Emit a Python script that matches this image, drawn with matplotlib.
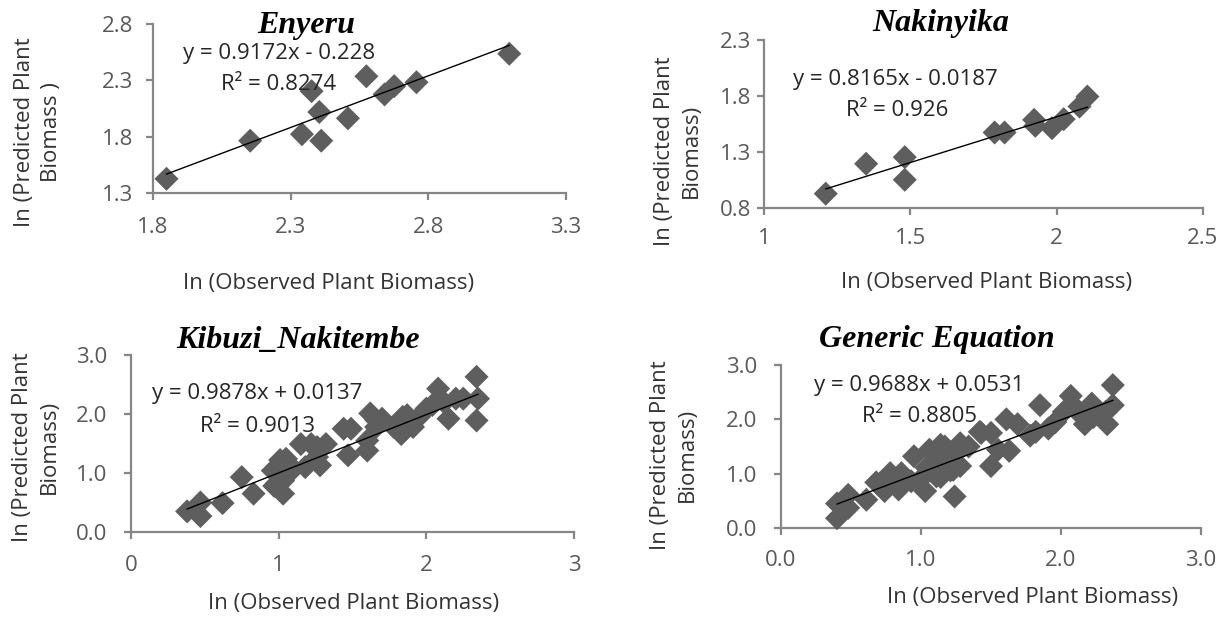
import matplotlib.pyplot as plt

W, H = 1229, 617

# --- data ---
# Enyeru
eny_obs = [1.849, 2.153, 2.341, 2.376, 2.404, 2.411, 2.508, 2.575, 2.641, 2.676, 2.757, 3.094]
eny_pred = [1.426, 1.764, 1.822, 2.204, 2.019, 1.764, 1.963, 2.336, 2.175, 2.248, 2.283, 2.536]
eny_fit = (0.9172, -0.228)

# Nakinyika
nak_obs = [1.211, 1.349, 1.481, 1.481, 1.788, 1.822, 1.923, 1.927, 1.984, 2.024, 2.078, 2.105]
nak_pred = [0.928, 1.195, 1.254, 1.052, 1.474, 1.474, 1.587, 1.534, 1.513, 1.593, 1.706, 1.795]
nak_fit = (0.8165, -0.0187)

# Kibuzi_Nakitembe
kib_obs = [0.38, 0.47, 0.47, 0.62, 0.75, 0.83, 0.96, 0.97, 1.03, 1.03, 1.05, 1.10,
           1.15, 1.18, 1.22, 1.26, 1.28, 1.32, 1.44, 1.47, 1.49, 1.60, 1.60, 1.62,
           1.66, 1.70, 1.78, 1.83, 1.87, 1.91, 1.95, 2.00, 2.04, 2.08, 2.12, 2.15,
           2.20, 2.25, 2.34, 2.35, 2.34, 1.01, 1.08, 0.99, 1.26, 1.66, 1.84]
kib_pred = [0.35, 0.50, 0.27, 0.49, 0.93, 0.65, 1.04, 0.78, 0.87, 0.65, 1.24, 1.07,
            1.49, 1.10, 1.49, 1.27, 1.13, 1.49, 1.75, 1.30, 1.75, 1.38, 1.55, 2.01,
            1.78, 1.92, 1.78, 1.66, 1.98, 1.78, 1.95, 2.09, 2.15, 2.43, 2.20, 1.92,
            2.26, 2.26, 2.63, 2.26, 1.89, 1.22, 1.10, 0.83, 1.44, 1.90, 1.95]
kib_fit = (0.9878, 0.0137)

# Generic equation (all sites)
gen_obs = [0.40, 0.40, 0.48, 0.48, 0.61, 0.68, 0.74, 0.78, 0.84, 0.86, 0.93, 0.95,
           1.03, 1.04, 1.08, 1.11, 1.14, 1.17, 1.21, 1.24, 1.25, 1.28, 1.34, 1.43,
           1.50, 1.50, 1.55, 1.61, 1.63, 1.69, 1.78, 1.82, 1.85, 1.91, 1.96, 2.02,
           2.07, 2.09, 2.15, 2.17, 2.22, 2.32, 2.33, 2.37, 2.37,
           1.06, 1.14, 1.28, 0.99, 1.06, 1.14, 1.23, 0.78, 1.42, 2.09, 2.23]
gen_pred = [0.45, 0.18, 0.61, 0.37, 0.52, 0.84, 0.68, 0.95, 0.71, 1.01, 0.86, 1.32,
            0.68, 1.11, 1.38, 0.95, 1.26, 1.50, 1.06, 0.58, 1.38, 1.14, 1.50, 1.75,
            1.75, 1.14, 1.44, 2.00, 1.42, 1.91, 1.70, 1.77, 2.26, 1.83, 1.95, 2.14,
            2.43, 2.25, 2.06, 1.91, 2.29, 2.14, 1.91, 2.63, 2.26,
            1.44, 1.53, 1.56, 0.88, 1.07, 0.94, 1.07, 1.01, 1.77, 2.23, 2.04]
gen_fit = (0.9688, 0.0531)

panels = [
    dict(title='Enyeru', x=eny_obs, y=eny_pred, fit=eny_fit,
         eq='y = 0.9172x - 0.228', r2='R² = 0.8274',
         xt=[1.8, 2.3, 2.8, 3.3], xl=['1.8', '2.3', '2.8', '3.3'],
         yt=[1.3, 1.8, 2.3, 2.8], yl=['1.3', '1.8', '2.3', '2.8'],
         ylab='In (Predicted Plant\nBiomass )',
         box=(153, 24, 566, 193), tpos=(306, 25), epos=(279, 53), rpos=(279, 85),
         xlpos=(329, 283), ylpos=(38, 132), xpad=17, ypad=13),
    dict(title='Nakinyika', x=nak_obs, y=nak_pred, fit=nak_fit,
         eq='y = 0.8165x - 0.0187', r2='R² = 0.926',
         xt=[1, 1.5, 2, 2.5], xl=['1', '1.5', '2', '2.5'],
         yt=[0.8, 1.3, 1.8, 2.3], yl=['0.8', '1.3', '1.8', '2.3'],
         ylab='In (Predicted Plant\nBiomass)',
         box=(764, 40, 1203, 208), tpos=(941, 23), epos=(895, 80), rpos=(897, 110),
         xlpos=(987, 282), ylpos=(678, 151), xpad=13, ypad=6),
    dict(title='Kibuzi_Nakitembe', x=kib_obs, y=kib_pred, fit=kib_fit,
         eq='y = 0.9878x + 0.0137', r2='R² = 0.9013',
         xt=[0, 1, 2, 3], xl=['0', '1', '2', '3'],
         yt=[0, 1, 2, 3], yl=['0.0', '1.0', '2.0', '3.0'],
         ylab='In (Predicted Plant\nBiomass)',
         box=(131, 355, 574, 532), tpos=(298, 340), epos=(257, 393), rpos=(257, 426),
         xlpos=(354, 603), ylpos=(36, 447), xpad=16, ypad=17),
    dict(title='Generic Equation', x=gen_obs, y=gen_pred, fit=gen_fit,
         eq='y = 0.9688x + 0.0531', r2='R² = 0.8805',
         xt=[0, 1, 2, 3], xl=['0.0', '1.0', '2.0', '3.0'],
         yt=[0, 1, 2, 3], yl=['0.0', '1.0', '2.0', '3.0'],
         ylab='In (Predicted Plant\nBiomass)',
         box=(781, 365, 1201, 528), tpos=(937, 340), epos=(919, 385), rpos=(919, 417),
         xlpos=(1033, 597), ylpos=(674, 455), xpad=15, ypad=17),
]

plt.rcParams['font.family'] = ['Open Sans', 'DejaVu Sans']

fig = plt.figure(figsize=(W / 100, H / 100), dpi=100)
fig.patch.set_facecolor('white')


def fx(px):
    return px / W


def fy(py):
    return 1 - py / H


pt = 72 / 100  # points per pixel
axis_col = '#868686'
tick_col = '#595959'
text_col = '#333333'

for p in panels:
    l, t, r, b = p['box']
    ax = fig.add_axes([fx(l), fy(b), (r - l) / W, (b - t) / H])
    ax.scatter(p['x'], p['y'], marker='D', s=150, color='#5e5e5e',
               edgecolors='none', zorder=3, clip_on=False)
    a, c = p['fit']
    x0, x1 = min(p['x']), max(p['x'])
    ax.plot([x0, x1], [a * x0 + c, a * x1 + c], color='black', lw=1.0, zorder=4)

    ax.set_xlim(p['xt'][0], p['xt'][-1])
    ax.set_ylim(p['yt'][0], p['yt'][-1])
    ax.set_xticks(p['xt'], labels=p['xl'])
    ax.set_yticks(p['yt'], labels=p['yl'])
    for s in ['top', 'right']:
        ax.spines[s].set_visible(False)
    for s in ['left', 'bottom']:
        ax.spines[s].set_color(axis_col)
        ax.spines[s].set_linewidth(1.6)
    ax.tick_params(axis='both', direction='out', length=7 * pt, width=1.6,
                   color=axis_col, labelcolor=tick_col, labelsize=16)
    ax.tick_params(axis='x', pad=p['xpad'] * pt)
    ax.tick_params(axis='y', pad=p['ypad'] * pt)
    ax.set_facecolor('none')

    fig.text(fx(p['tpos'][0]), fy(p['tpos'][1]), p['title'], ha='center', va='center',
             family='Liberation Serif', style='italic', weight='bold', fontsize=23,
             color='black')
    fig.text(fx(p['epos'][0]), fy(p['epos'][1]), p['eq'], ha='center', va='center',
             fontsize=16, color='#262626')
    fig.text(fx(p['rpos'][0]), fy(p['rpos'][1]), p['r2'], ha='center', va='center',
             fontsize=16, color='#262626')
    fig.text(fx(p['xlpos'][0]), fy(p['xlpos'][1]), 'In (Observed Plant Biomass)',
             ha='center', va='center', fontsize=16, color=text_col)
    fig.text(fx(p['ylpos'][0]), fy(p['ylpos'][1]), p['ylab'], ha='center', va='center',
             rotation=90, fontsize=16, color=text_col, linespacing=1.35,
             multialignment='center')

fig.savefig('out.png', dpi=100, facecolor='white')
